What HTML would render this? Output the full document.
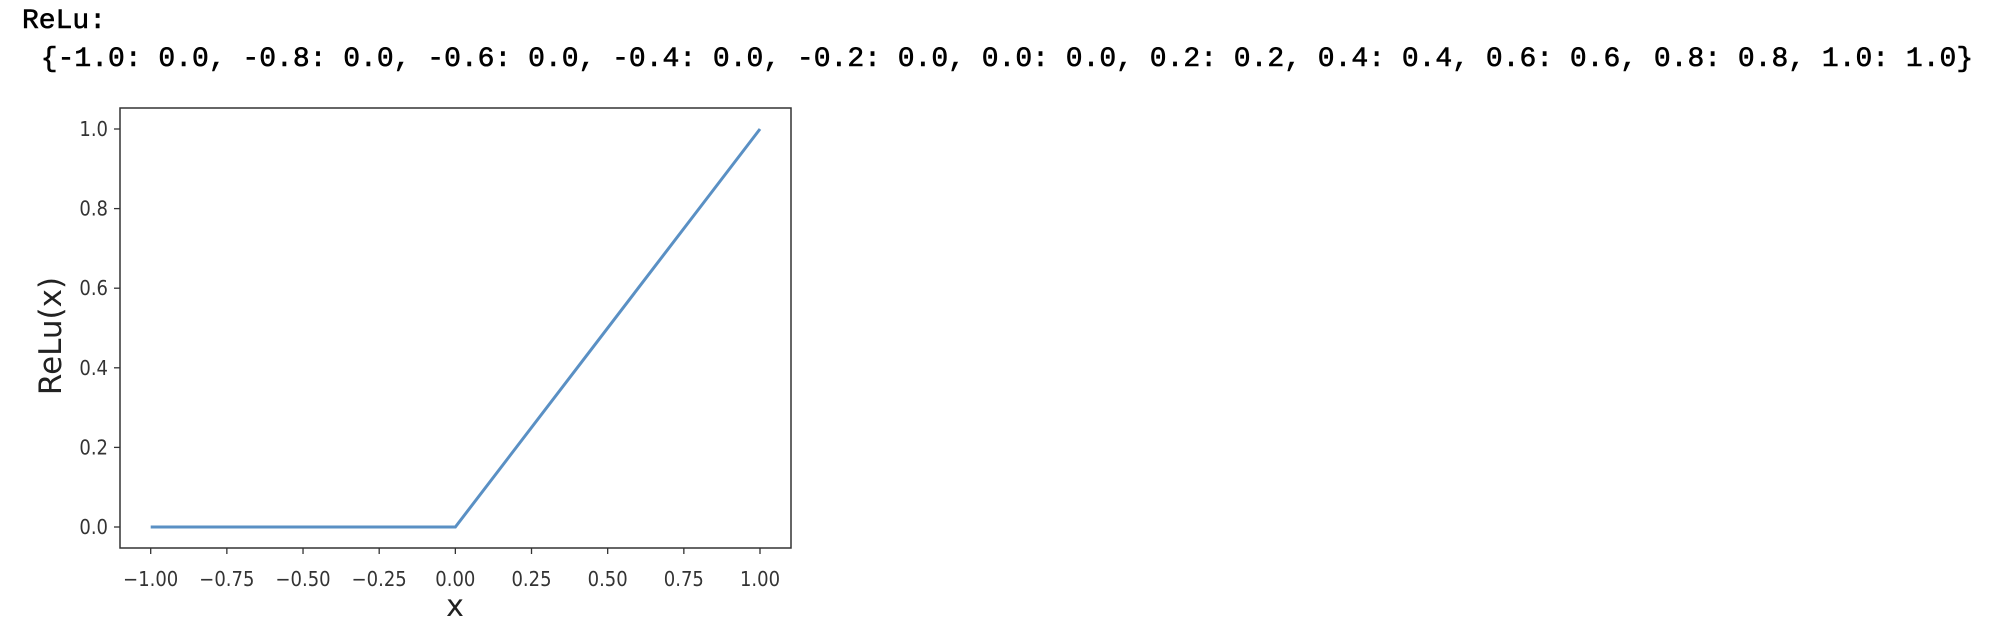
<!DOCTYPE html>
<html><head><meta charset="utf-8"><style>
body{margin:0;width:2012px;height:630px;background:#fff;overflow:hidden;position:relative}
.mono{position:absolute;font-family:"Liberation Mono",monospace;font-size:28px;color:#000;white-space:pre;font-weight:normal;-webkit-text-stroke:0.6px #000}
</style></head><body>
<div class="mono" style="left:22px;top:6px">ReLu:</div>
<div class="mono" style="left:24px;top:44px"> {-1.0: 0.0, -0.8: 0.0, -0.6: 0.0, -0.4: 0.0, -0.2: 0.0, 0.0: 0.0, 0.2: 0.2, 0.4: 0.4, 0.6: 0.6, 0.8: 0.8, 1.0: 1.0}</div>
<svg id="chart" width="2012" height="630" style="position:absolute;left:0;top:0" font-family="DejaVu Sans, sans-serif"></svg>
<script>
const xs=[-1.0,-0.8,-0.6,-0.4,-0.2,0.0,0.2,0.4,0.6,0.8,1.0];
const ys=[0.0,0.0,0.0,0.0,0.0,0.0,0.2,0.4,0.6,0.8,1.0];
const xTicks=[-1.0,-0.75,-0.5,-0.25,0.0,0.25,0.5,0.75,1.0];
const xTickLabels=["\u22121.00","\u22120.75","\u22120.50","\u22120.25","0.00","0.25","0.50","0.75","1.00"];
const yTicks=[0.0,0.2,0.4,0.6,0.8,1.0];
const yTickLabels=["0.0","0.2","0.4","0.6","0.8","1.0"];
const svg=document.getElementById('chart');
const NS='http://www.w3.org/2000/svg';
const L=120,R=791,T=108,B=548;
const X=v=>150.7+(v+1)/2*(760-150.7);
const Y=v=>527+(v)*(129-527);
function mk(t,a){const e=document.createElementNS(NS,t);for(const k in a)e.setAttribute(k,a[k]);svg.appendChild(e);return e;}
const frame=mk('rect',{x:L,y:T,width:R-L,height:B-T,fill:'none',stroke:'#333',"stroke-width":1.5});


xTicks.forEach((v,i)=>{
 const t=mk('line',{x1:X(v),x2:X(v),y1:B,y2:B+6,stroke:'#333',"stroke-width":1.3});
 
 
 const l=mk('text',{x:X(v),y:586,"text-anchor":"middle","font-size":20,fill:'#333',transform:`translate(${X(v)},0) scale(0.9,1) translate(${-X(v)},0)`});
 l.textContent=xTickLabels[i];
 
 
});
yTicks.forEach((v,i)=>{
 const t=mk('line',{x1:L-6,x2:L,y1:Y(v),y2:Y(v),stroke:'#333',"stroke-width":1.3});
 
 
 const l=mk('text',{x:108,y:Y(v)+7,"text-anchor":"end","font-size":20,fill:'#333',transform:`translate(108,0) scale(0.9,1) translate(-108,0)`});
 l.textContent=yTickLabels[i];
 
 
});
const p=mk('polyline',{points:xs.map((x,i)=>X(x)+','+Y(ys[i])).join(' '),fill:'none',stroke:'#5a90c4',"stroke-width":3});


const xl=mk('text',{x:455,y:616,"text-anchor":"middle","font-size":30,fill:'#222'});
xl.textContent='x';


const yl=mk('text',{x:0,y:0,"text-anchor":"middle","font-size":31,fill:'#222',transform:'translate(61,336) rotate(-90)'});
yl.textContent='ReLu(x)';


</script>
</body></html>
